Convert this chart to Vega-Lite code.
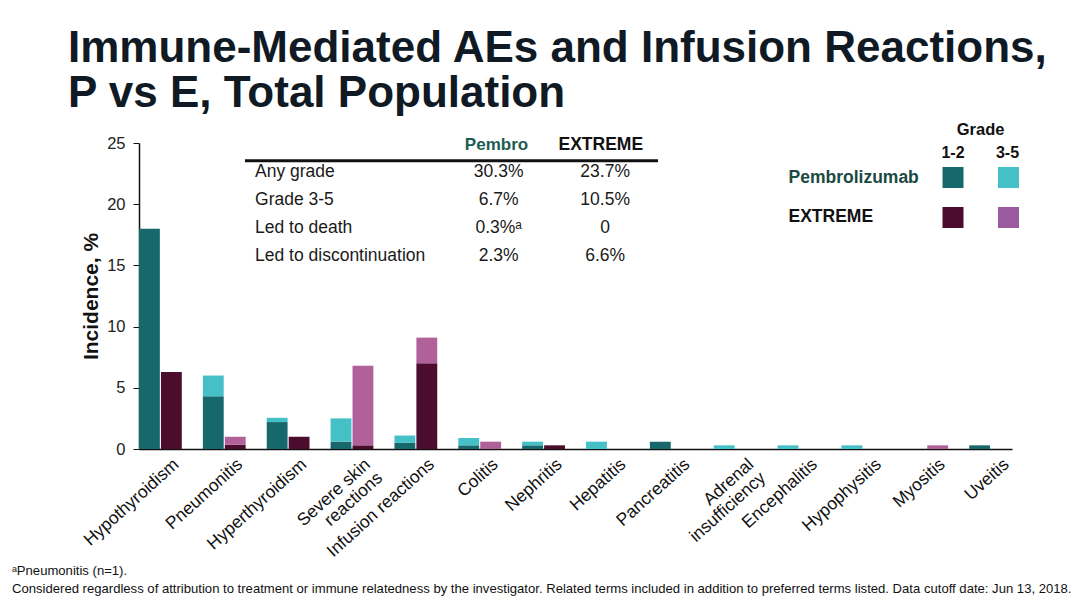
{
  "$schema": "https://vega.github.io/schema/vega-lite/v6.json",
  "width": 873,
  "height": 306,
  "autosize": {"type": "none"},
  "padding": {"left": 139, "top": 143, "right": 68, "bottom": 150},
  "background": "white",
  "title": {
    "text": ["Immune-Mediated AEs and Infusion Reactions,", "P vs E, Total Population"],
    "anchor": "start",
    "frame": "group",
    "orient": "top",
    "dx": -71,
    "dy": 50,
    "offset": 12,
    "baseline": "bottom",
    "font": "Liberation Sans",
    "fontSize": 44,
    "fontWeight": "bold",
    "lineHeight": 45,
    "color": "#0f1a24"
  },
  "datasets": {
    "bars": [
      {"category": "Hypothyroidism", "arm": "Pembro", "grade": "1-2", "series": "Pembro 1-2", "value": 18.0},
      {"category": "Hypothyroidism", "arm": "EXTREME", "grade": "1-2", "series": "EXTREME 1-2", "value": 6.3},
      {"category": "Pneumonitis", "arm": "Pembro", "grade": "1-2", "series": "Pembro 1-2", "value": 4.3},
      {"category": "Pneumonitis", "arm": "Pembro", "grade": "3-5", "series": "Pembro 3-5", "value": 1.7},
      {"category": "Pneumonitis", "arm": "EXTREME", "grade": "1-2", "series": "EXTREME 1-2", "value": 0.35},
      {"category": "Pneumonitis", "arm": "EXTREME", "grade": "3-5", "series": "EXTREME 3-5", "value": 0.65},
      {"category": "Hyperthyroidism", "arm": "Pembro", "grade": "1-2", "series": "Pembro 1-2", "value": 2.2},
      {"category": "Hyperthyroidism", "arm": "Pembro", "grade": "3-5", "series": "Pembro 3-5", "value": 0.35},
      {"category": "Hyperthyroidism", "arm": "EXTREME", "grade": "1-2", "series": "EXTREME 1-2", "value": 1.0},
      {"category": "Severe skin reactions", "arm": "Pembro", "grade": "1-2", "series": "Pembro 1-2", "value": 0.6},
      {"category": "Severe skin reactions", "arm": "Pembro", "grade": "3-5", "series": "Pembro 3-5", "value": 1.9},
      {"category": "Severe skin reactions", "arm": "EXTREME", "grade": "1-2", "series": "EXTREME 1-2", "value": 0.3},
      {"category": "Severe skin reactions", "arm": "EXTREME", "grade": "3-5", "series": "EXTREME 3-5", "value": 6.5},
      {"category": "Infusion reactions", "arm": "Pembro", "grade": "1-2", "series": "Pembro 1-2", "value": 0.5},
      {"category": "Infusion reactions", "arm": "Pembro", "grade": "3-5", "series": "Pembro 3-5", "value": 0.6},
      {"category": "Infusion reactions", "arm": "EXTREME", "grade": "1-2", "series": "EXTREME 1-2", "value": 7.0},
      {"category": "Infusion reactions", "arm": "EXTREME", "grade": "3-5", "series": "EXTREME 3-5", "value": 2.1},
      {"category": "Colitis", "arm": "Pembro", "grade": "1-2", "series": "Pembro 1-2", "value": 0.3},
      {"category": "Colitis", "arm": "Pembro", "grade": "3-5", "series": "Pembro 3-5", "value": 0.6},
      {"category": "Colitis", "arm": "EXTREME", "grade": "3-5", "series": "EXTREME 3-5", "value": 0.6},
      {"category": "Nephritis", "arm": "Pembro", "grade": "1-2", "series": "Pembro 1-2", "value": 0.3},
      {"category": "Nephritis", "arm": "Pembro", "grade": "3-5", "series": "Pembro 3-5", "value": 0.3},
      {"category": "Nephritis", "arm": "EXTREME", "grade": "1-2", "series": "EXTREME 1-2", "value": 0.3},
      {"category": "Hepatitis", "arm": "Pembro", "grade": "3-5", "series": "Pembro 3-5", "value": 0.6},
      {"category": "Pancreatitis", "arm": "Pembro", "grade": "1-2", "series": "Pembro 1-2", "value": 0.6},
      {"category": "Adrenal insufficiency", "arm": "Pembro", "grade": "3-5", "series": "Pembro 3-5", "value": 0.3},
      {"category": "Encephalitis", "arm": "Pembro", "grade": "3-5", "series": "Pembro 3-5", "value": 0.3},
      {"category": "Hypophysitis", "arm": "Pembro", "grade": "3-5", "series": "Pembro 3-5", "value": 0.3},
      {"category": "Myositis", "arm": "EXTREME", "grade": "3-5", "series": "EXTREME 3-5", "value": 0.3},
      {"category": "Uveitis", "arm": "Pembro", "grade": "1-2", "series": "Pembro 1-2", "value": 0.3}
    ],
    "table": [
      {"row": "Any grade", "Pembro": "30.3%", "EXTREME": "23.7%"},
      {"row": "Grade 3-5", "Pembro": "6.7%", "EXTREME": "10.5%"},
      {"row": "Led to death", "Pembro": "0.3%ᵃ", "EXTREME": "0"},
      {"row": "Led to discontinuation", "Pembro": "2.3%", "EXTREME": "6.6%"}
    ],
    "tableHeader": [
      {"col": "Pembro", "label": "Pembro"},
      {"col": "EXTREME", "label": "EXTREME"}
    ],
    "legendKeys": [
      {"arm": "Pembrolizumab", "grade": "1-2", "series": "Pembro 1-2"},
      {"arm": "Pembrolizumab", "grade": "3-5", "series": "Pembro 3-5"},
      {"arm": "EXTREME", "grade": "1-2", "series": "EXTREME 1-2"},
      {"arm": "EXTREME", "grade": "3-5", "series": "EXTREME 3-5"}
    ],
    "legendRows": [
      {"arm": "Pembrolizumab", "label": "Pembrolizumab"},
      {"arm": "EXTREME", "label": "EXTREME"}
    ],
    "legendGrades": [
      {"grade": "1-2"},
      {"grade": "3-5"}
    ],
    "legendTitle": [{"label": "Grade"}],
    "footnotes": [
      {"line": "a", "label": "ᵃPneumonitis (n=1)."},
      {"line": "b", "label": "Considered regardless of attribution to treatment or immune relatedness by the investigator. Related terms included in addition to preferred terms listed. Data cutoff date: Jun 13, 2018."}
    ]
  },
  "layer": [
    {
      "data": {"name": "bars"},
      "mark": {"type": "bar"},
      "encoding": {
        "x": {
          "field": "category",
          "type": "nominal",
          "sort": ["Hypothyroidism", "Pneumonitis", "Hyperthyroidism", "Severe skin reactions", "Infusion reactions", "Colitis", "Nephritis", "Hepatitis", "Pancreatitis", "Adrenal insufficiency", "Encephalitis", "Hypophysitis", "Myositis", "Uveitis"],
          "scale": {"paddingInner": 0.33, "paddingOuter": 0},
          "axis": {
            "title": null,
            "labelAngle": -42,
            "labelAlign": "right",
            "labelBaseline": "top",
            "labelFont": "Liberation Sans",
            "labelFontSize": 17.5,
            "labelColor": "#111111",
            "labelPadding": 6,
            "labelOffset": 10,
            "labelLineHeight": 18,
            "labelExpr": "datum.label == 'Severe skin reactions' ? ['Severe skin', 'reactions'] : datum.label == 'Adrenal insufficiency' ? ['Adrenal', 'insufficiency'] : datum.label",
            "ticks": false,
            "domainColor": "#111111",
            "domainWidth": 1.5,
            "labelOverlap": false
          }
        },
        "xOffset": {"field": "arm", "type": "nominal", "sort": ["Pembro", "EXTREME"], "scale": {"paddingInner": 0.05}},
        "y": {
          "field": "value",
          "type": "quantitative",
          "stack": "zero",
          "scale": {"domain": [0, 25], "nice": false},
          "axis": {
            "title": "Incidence, %",
            "titleFont": "Liberation Sans",
            "titleFontSize": 21,
            "titleFontWeight": "bold",
            "titleColor": "#111111",
            "titlePadding": 5,
            "values": [0, 5, 10, 15, 20, 25],
            "labelFont": "Liberation Sans",
            "labelFontSize": 16.5,
            "labelColor": "#222222",
            "labelPadding": 8,
            "tickSize": 6,
            "tickColor": "#111111",
            "domainColor": "#111111",
            "domainWidth": 1.5,
            "grid": false
          }
        },
        "color": {
          "field": "series",
          "type": "nominal",
          "scale": {
            "domain": ["Pembro 1-2", "Pembro 3-5", "EXTREME 1-2", "EXTREME 3-5"],
            "range": ["#17686c", "#45c0c6", "#4b0c2e", "#b0619a"]
          },
          "legend": null
        },
        "order": {"field": "grade", "type": "ordinal"}
      }
    },
    {
      "data": {"name": "tableHeader"},
      "transform": [{"filter": "datum.col == 'Pembro'"}],
      "mark": {"type": "rule", "color": "#111111", "strokeWidth": 3},
      "encoding": {
        "x": {"datum": 12.14, "type": "quantitative", "scale": {"domain": [0, 100]}, "axis": null},
        "x2": {"datum": 59.45},
        "y": {"datum": 23.55, "type": "quantitative", "scale": {"domain": [0, 25]}, "axis": null}
      }
    },
    {
      "data": {"name": "tableHeader"},
      "transform": [{"filter": "datum.col == 'Pembro'"}],
      "mark": {"type": "text", "align": "center", "baseline": "middle", "font": "Liberation Sans", "fontSize": 17, "fontWeight": "bold", "color": "#1d5c50"},
      "encoding": {
        "x": {"datum": 40.95, "type": "quantitative", "scale": {"domain": [0, 100]}, "axis": null},
        "y": {"datum": 24.82, "type": "quantitative", "scale": {"domain": [0, 25]}, "axis": null},
        "text": {"field": "label"}
      }
    },
    {
      "data": {"name": "tableHeader"},
      "transform": [{"filter": "datum.col == 'EXTREME'"}],
      "mark": {"type": "text", "align": "center", "baseline": "middle", "font": "Liberation Sans", "fontSize": 17.5, "fontWeight": "bold", "color": "#111111"},
      "encoding": {
        "x": {"datum": 52.9, "type": "quantitative", "scale": {"domain": [0, 100]}, "axis": null},
        "y": {"datum": 24.82, "type": "quantitative", "scale": {"domain": [0, 25]}, "axis": null},
        "text": {"field": "label"}
      }
    },
    {
      "data": {"name": "table"},
      "mark": {"type": "text", "align": "left", "baseline": "middle", "font": "Liberation Sans", "fontSize": 17.5, "color": "#1a1a1a"},
      "encoding": {
        "x": {"datum": 13.29, "type": "quantitative", "scale": {"domain": [0, 100]}, "axis": null},
        "y": {"field": "row", "type": "nominal", "scale": {"type": "point", "domain": ["Any grade", "Grade 3-5", "Led to death", "Led to discontinuation"], "range": [29, 113], "padding": 0}, "axis": null},
        "text": {"field": "row"}
      }
    },
    {
      "data": {"name": "table"},
      "mark": {"type": "text", "align": "center", "baseline": "middle", "font": "Liberation Sans", "fontSize": 17.5, "color": "#1a1a1a"},
      "encoding": {
        "x": {"datum": 41.2, "type": "quantitative", "scale": {"domain": [0, 100]}, "axis": null},
        "y": {"field": "row", "type": "nominal", "scale": {"type": "point", "domain": ["Any grade", "Grade 3-5", "Led to death", "Led to discontinuation"], "range": [29, 113], "padding": 0}, "axis": null},
        "text": {"field": "Pembro"}
      }
    },
    {
      "data": {"name": "table"},
      "mark": {"type": "text", "align": "center", "baseline": "middle", "font": "Liberation Sans", "fontSize": 17.5, "color": "#1a1a1a"},
      "encoding": {
        "x": {"datum": 53.4, "type": "quantitative", "scale": {"domain": [0, 100]}, "axis": null},
        "y": {"field": "row", "type": "nominal", "scale": {"type": "point", "domain": ["Any grade", "Grade 3-5", "Led to death", "Led to discontinuation"], "range": [29, 113], "padding": 0}, "axis": null},
        "text": {"field": "EXTREME"}
      }
    },
    {
      "data": {"name": "legendKeys"},
      "mark": {"type": "square", "size": 441, "opacity": 1, "filled": true},
      "encoding": {
        "x": {"field": "grade", "type": "nominal", "scale": {"type": "point", "domain": ["1-2", "3-5"], "range": [814, 869.5], "padding": 0}, "axis": null},
        "y": {"field": "arm", "type": "nominal", "scale": {"type": "point", "domain": ["Pembrolizumab", "EXTREME"], "range": [34.5, 74.5], "padding": 0}, "axis": null},
        "color": {
          "field": "series",
          "type": "nominal",
          "scale": {
            "domain": ["Pembro 1-2", "Pembro 3-5", "EXTREME 1-2", "EXTREME 3-5"],
            "range": ["#17686c", "#45c0c6", "#4b0c2e", "#9c5a9e"]
          },
          "legend": null
        }
      }
    },
    {
      "data": {"name": "legendRows"},
      "mark": {"type": "text", "align": "left", "baseline": "middle", "font": "Liberation Sans", "fontSize": 17.5, "fontWeight": "bold"},
      "encoding": {
        "x": {"datum": 74.4, "type": "quantitative", "scale": {"domain": [0, 100]}, "axis": null},
        "y": {"field": "arm", "type": "nominal", "scale": {"type": "point", "domain": ["Pembrolizumab", "EXTREME"], "range": [35, 74], "padding": 0}, "axis": null},
        "color": {"field": "arm", "type": "nominal", "scale": {"domain": ["Pembrolizumab", "EXTREME"], "range": ["#1b4a42", "#111111"]}, "legend": null},
        "text": {"field": "label"}
      }
    },
    {
      "data": {"name": "legendGrades"},
      "mark": {"type": "text", "align": "center", "baseline": "middle", "font": "Liberation Sans", "fontSize": 16, "fontWeight": "bold", "color": "#111111"},
      "encoding": {
        "x": {"field": "grade", "type": "nominal", "scale": {"type": "point", "domain": ["1-2", "3-5"], "range": [814, 868.5], "padding": 0}, "axis": null},
        "y": {"datum": 24.2, "type": "quantitative", "scale": {"domain": [0, 25]}, "axis": null},
        "text": {"field": "grade"}
      }
    },
    {
      "data": {"name": "legendTitle"},
      "mark": {"type": "text", "align": "center", "baseline": "middle", "font": "Liberation Sans", "fontSize": 16.5, "fontWeight": "bold", "color": "#111111"},
      "encoding": {
        "x": {"datum": 96.4, "type": "quantitative", "scale": {"domain": [0, 100]}, "axis": null},
        "y": {"datum": 26.06, "type": "quantitative", "scale": {"domain": [0, 25]}, "axis": null},
        "text": {"field": "label"}
      }
    },
    {
      "data": {"name": "footnotes"},
      "mark": {"type": "text", "align": "left", "baseline": "middle", "font": "Liberation Sans", "fontSize": 13.1, "color": "#111111"},
      "encoding": {
        "x": {"datum": -14.55, "type": "quantitative", "scale": {"domain": [0, 100]}, "axis": null},
        "y": {"field": "line", "type": "nominal", "scale": {"type": "point", "domain": ["a", "b"], "range": [428, 446], "padding": 0}, "axis": null},
        "text": {"field": "label"}
      }
    }
  ],
  "resolve": {"scale": {"x": "independent", "y": "independent", "color": "independent", "xOffset": "independent"}},
  "config": {
    "view": {"stroke": null},
    "font": "Liberation Sans"
  }
}
